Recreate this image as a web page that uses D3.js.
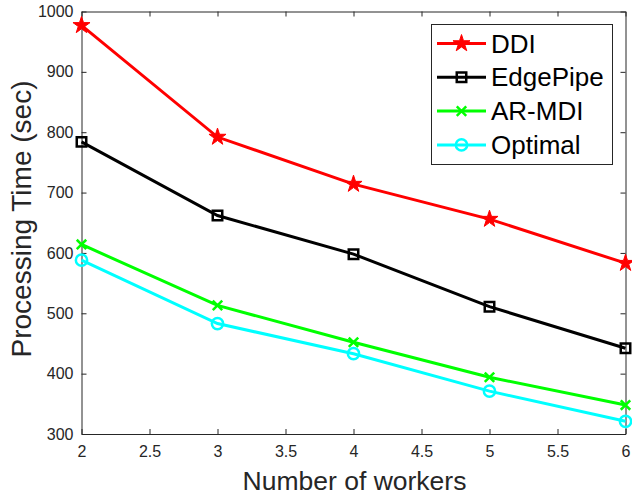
<!DOCTYPE html>
<html>
<head>
<meta charset="utf-8">
<title>Processing time</title>
<style>
body { margin: 0; background: #fff; }
svg text { font-family: "Liberation Sans", Arial, Helvetica, sans-serif; fill: #262626; }
.axis path, .axis line { stroke: #262626; stroke-width: 1; }
.axis text { font-size: 16px; }
</style>
</head>
<body>
<script src="https://cdn.jsdelivr.net/npm/d3@7"></script>
<script>
var workers = [2, 3, 4, 5, 6];
var ddi = [977, 792, 714, 656, 583];
var edgePipe = [784, 662, 598, 511, 442];
var arMdi = [614, 513, 452, 394, 348];
var optimal = [588, 483, 433, 371, 321];
var seriesNames = ["DDI", "EdgePipe", "AR-MDI", "Optimal"];
var xTicks = [2, 2.5, 3, 3.5, 4, 4.5, 5, 5.5, 6];
var yTicks = [300, 400, 500, 600, 700, 800, 900, 1000];

var width = 632, height = 496;
var pLeft = 81.5, pRight = 625.5, pTop = 11.5, pBottom = 434;

var svg = d3.select("body").append("svg")
	.attr("width", width)
	.attr("height", height);

var x = d3.scaleLinear().domain([2, 6]).range([pLeft, pRight]);
var y = d3.scaleLinear().domain([300, 1000]).range([pBottom, pTop]);

// box with inward ticks on all four sides
svg.append("g").attr("class", "axis")
	.attr("transform", "translate(0," + pBottom + ")")
	.call(d3.axisBottom(x).tickValues(xTicks).tickSizeInner(-5).tickSizeOuter(0).tickPadding(12).tickFormat(d3.format("")));
svg.append("g").attr("class", "axis")
	.attr("transform", "translate(0," + pTop + ")")
	.call(d3.axisTop(x).tickValues(xTicks).tickSizeInner(-5).tickSizeOuter(0).tickFormat(""));
svg.append("g").attr("class", "axis")
	.attr("transform", "translate(" + pLeft + ",0)")
	.call(d3.axisLeft(y).tickValues(yTicks).tickSizeInner(-5).tickSizeOuter(0).tickPadding(8).tickFormat(d3.format("d")));
svg.append("g").attr("class", "axis")
	.attr("transform", "translate(" + pRight + ",0)")
	.call(d3.axisRight(y).tickValues(yTicks).tickSizeInner(-5).tickSizeOuter(0).tickFormat(""));

svg.append("text")
	.attr("x", (pLeft + pRight) / 2 + 1)
	.attr("y", 490)
	.attr("text-anchor", "middle")
	.style("font-size", "26.5px")
	.text("Number of workers");
svg.append("text")
	.attr("transform", "translate(31,219) rotate(-90)")
	.attr("text-anchor", "middle")
	.style("font-size", "28px")
	.text("Processing Time (sec)");

var series = [
	{ name: seriesNames[0], values: ddi, color: "#ff0000", symbol: d3.symbolStar, size: 90, fill: true },
	{ name: seriesNames[1], values: edgePipe, color: "#000000", symbol: d3.symbolSquare, size: 90, fill: false },
	{ name: seriesNames[2], values: arMdi, color: "#00ff00", symbol: d3.symbolTimes, size: 60, fill: false },
	{ name: seriesNames[3], values: optimal, color: "#00ffff", symbol: d3.symbolCircle, size: 100, fill: false }
];

var line = d3.line()
	.x(function(d, i) { return x(workers[i]); })
	.y(function(d) { return y(d); });

function marker(g, s, cx, cy) {
	g.append("path")
		.attr("transform", "translate(" + cx + "," + cy + ")")
		.attr("d", d3.symbol().type(s.symbol).size(s.size)())
		.attr("fill", s.fill ? s.color : "none")
		.attr("stroke", s.color)
		.attr("stroke-width", s.fill ? 1 : 2.5);
}

series.forEach(function(s) {
	var g = svg.append("g");
	g.append("path")
		.attr("d", line(s.values))
		.attr("fill", "none")
		.attr("stroke", s.color)
		.attr("stroke-width", 3);
	s.values.forEach(function(v, i) {
		marker(g, s, x(workers[i]), y(v));
	});
});

// legend
var lg = svg.append("g");
lg.append("rect")
	.attr("x", 431.5).attr("y", 24.5)
	.attr("width", 181).attr("height", 140)
	.attr("fill", "#fff")
	.attr("stroke", "#262626")
	.attr("stroke-width", 1);
series.forEach(function(s, i) {
	var ly = 43.5 + i * 33.8;
	lg.append("line")
		.attr("x1", 437).attr("x2", 486)
		.attr("y1", ly).attr("y2", ly)
		.attr("stroke", s.color)
		.attr("stroke-width", 3);
	marker(lg, s, 461.5, ly);
	lg.append("text")
		.attr("x", 491)
		.attr("y", ly + 9)
		.style("font-size", "26px")
		.style("fill", "#000")
		.text(s.name);
});
</script>
</body>
</html>
